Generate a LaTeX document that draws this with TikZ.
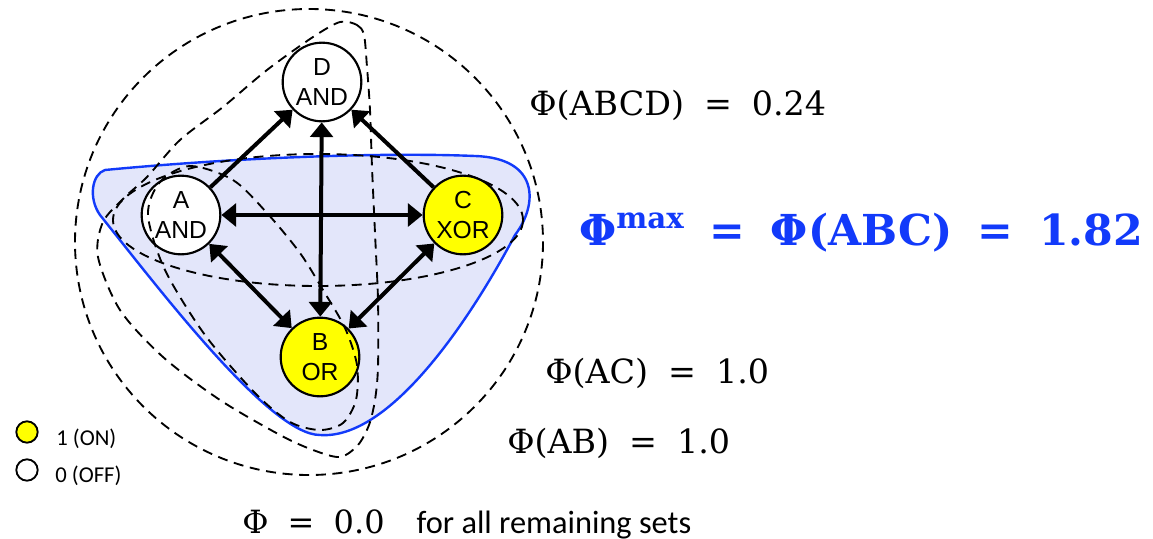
\documentclass[tikz,border=0pt]{standalone}
\usepackage{fontspec}
\newfontfamily\gatefont{Liberation Sans}
\newfontfamily\notefont{Carlito}
\newfontfamily\phifont{DejaVu Serif}
\usetikzlibrary{arrows.meta}
\definecolor{onyellow}{RGB}{255,255,0}
\definecolor{maxblue}{RGB}{18,58,250}
\definecolor{maxfill}{RGB}{227,230,250}
\newcommand\eqgap{\hspace{0.6em}}
\begin{document}
\begin{tikzpicture}[x=0.75pt,y=-0.75pt,
  gate/.style={draw, circle, line width=1.6pt, minimum size=59pt, inner sep=0pt, align=center, font=\gatefont\fontsize{18.5}{22.5}\selectfont},
  gateon/.style={gate, fill=onyellow},
  gateoff/.style={gate, fill=white},
  keydot/.style={draw, circle, line width=1.4pt, minimum size=16pt, inner sep=0pt},
  link/.style={line width=3pt, -{Triangle[length=11pt,width=17pt]}},
  twoway/.style={line width=3pt, {Triangle[length=11pt,width=17pt]}-{Triangle[length=11pt,width=17pt]}},
  setline/.style={line width=1.4pt, dash pattern=on 7.5pt off 5pt},
  philabel/.style={anchor=base west, inner sep=0pt, font=\phifont\fontsize{25}{28}\selectfont},
  keytext/.style={anchor=base west, inner sep=0pt, font=\notefont\fontsize{17}{20}\selectfont}]
\useasboundingbox (0,0) rectangle (1153,539);

% shaded complex ABC
\draw[line width=1.8pt, draw=maxblue, fill=maxfill] (105,170) .. controls (230,158) and (380,152) .. (475,156)
  .. controls (540,158) and (538,205) .. (515,235)
  .. controls (470,320) and (390,440) .. (320,435)
  .. controls (270,435) and (160,290) .. (100,215)
  .. controls (88,198) and (92,174) .. (105,170) -- cycle;

% the elements
\node[gateoff] (D) at (322,82) {D\\AND};
\node[gateoff] (A) at (181,215) {A\\AND};
\node[gateon] (C) at (463,215) {C\\XOR};
\node[gateon] (B) at (320,357) {B\\OR};

% candidate sets
\draw[setline] (309,242) ellipse [x radius=234, y radius=233];
\draw[setline] (318,220) ellipse [x radius=205, y radius=66];
\draw[setline] plot[smooth cycle] coordinates {(190,166) (233,180) (267,213) (300,253) (323,290) (345,328) (357,365) (356,400) (343,423) (320,430) (290,422) (255,393) (205,335) (165,270) (148,215) (160,182)};
\draw[setline] plot[smooth cycle] coordinates {(340,22) (357,25) (364,35) (367,67) (370,110) (372,167) (375,233) (378,300) (378,367) (375,400) (369,425) (358,445) (340,457) (313,450) (280,435) (220,400) (163,357) (120,310) (98,257) (103,222) (125,197) (147,177) (180,140) (223,107) (267,70) (313,37)};

% connections
\draw[link] (A) -- (D);
\draw[link] (C) -- (D);
\draw[twoway] (B) -- (D);
\draw[twoway] (A) -- (C);
\draw[twoway] (A) -- (B);
\draw[twoway] (C) -- (B);

% values
\node[philabel] (abcd) at (529,115) {Φ(ABCD)\eqgap=\eqgap0.24};
\node[philabel, text=maxblue, font=\phifont\bfseries\fontsize{32}{36}\selectfont] (max) at (579,245) {Φ\raisebox{12.5pt}{\fontsize{22}{22}\selectfont max}\eqgap=\eqgap Φ(ABC)\eqgap=\eqgap1.82};
\node[philabel] (ac) at (545,383) {Φ(AC)\eqgap=\eqgap1.0};
\node[philabel] (ab) at (507,453) {Φ(AB)\eqgap=\eqgap1.0};
\node[philabel, font=\notefont\fontsize{24.3}{28}\selectfont] (rest) at (242,533) {{\phifont\fontsize{24}{28}\selectfont Φ\eqgap=\eqgap0.0}\hspace{24pt}for all remaining sets};

% legend
\node[keydot, fill=onyellow] (on) at (27,432) {};
\node[keydot, fill=white] (off) at (27,470) {};
\node[keytext] (ontext) at (56,445) {1 (ON)};
\node[keytext] (offtext) at (55,482) {0 (OFF)};
\end{tikzpicture}
\end{document}
